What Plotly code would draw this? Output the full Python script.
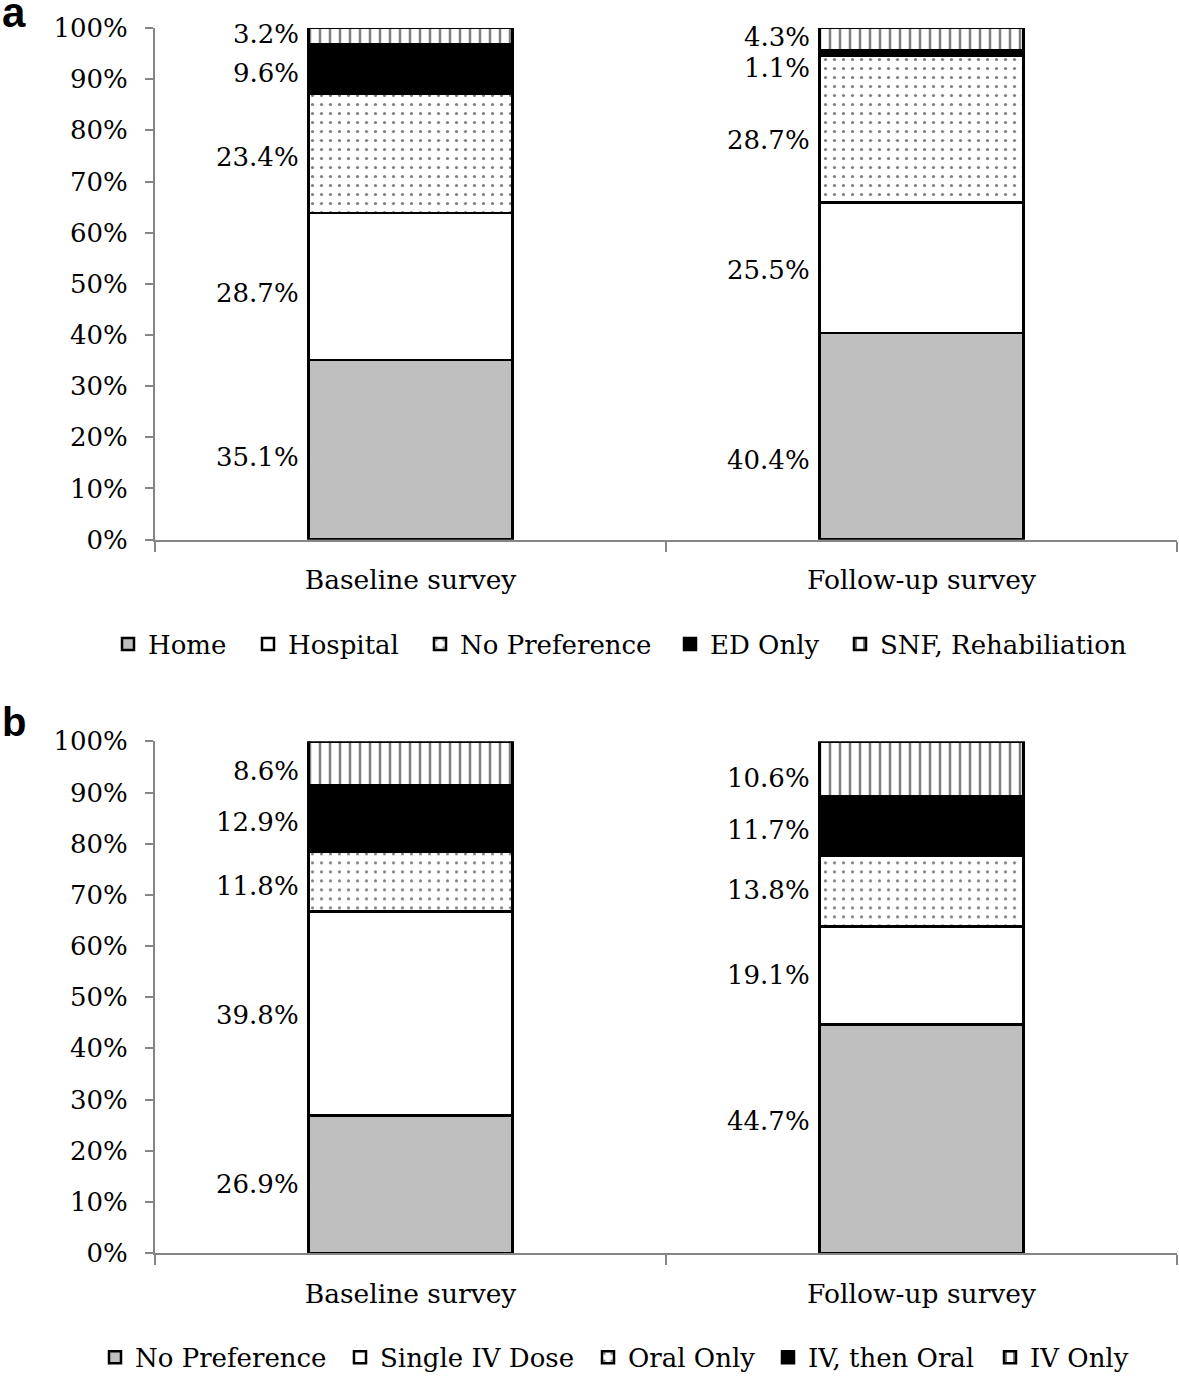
import plotly.graph_objects as go

categories = ["Baseline survey", "Follow-up survey"]

# Panel a: preferred location
a_series = ["Home", "Hospital", "No Preference", "ED Only", "SNF, Rehabiliation"]
a_values = [
    [35.1, 40.4],
    [28.7, 25.5],
    [23.4, 28.7],
    [9.6, 1.1],
    [3.2, 4.3],
]

# Panel b: preferred treatment
b_series = ["No Preference", "Single IV Dose", "Oral Only", "IV, then Oral", "IV Only"]
b_values = [
    [26.9, 44.7],
    [39.8, 19.1],
    [11.8, 13.8],
    [12.9, 11.7],
    [8.6, 10.6],
]

y_ticks = [0, 10, 20, 30, 40, 50, 60, 70, 80, 90, 100]
y_tick_labels = [f"{v}%" for v in y_ticks]

# styles per series position (gray, white, dotted, black, vertical stripes)
styles = [
    dict(color="#bfbfbf", pattern=dict(shape="")),
    dict(color="white", pattern=dict(shape="")),
    dict(color="white", pattern=dict(shape=".", fgcolor="black", bgcolor="white", size=9, solidity=0.1, fillmode="overlay")),
    dict(color="black", pattern=dict(shape="")),
    dict(color="white", pattern=dict(shape="|", fgcolor="black", bgcolor="white", size=10, solidity=0.25, fillmode="overlay")),
]

FONT = "DejaVu Serif"

# layout in page pixels (body margin removed via post_script)
W, H = 1179, 1383
VS = 1391 / 1383  # vertical compensation for the capture


def Y(p):
    return p * VS


L, R = 155, 1177
T, B = Y(28), Y(1261)
pw = R - L
ph = B - T


def py(pix):  # target page pixel from top -> paper fraction
    return 1 - (Y(pix) - T) / ph


def px(pix):
    return (pix - L) / pw


# legend text start positions (page px) for each entry
legend_text_x = {"a": [148, 288, 460, 710, 880], "b": [135, 380, 628, 808, 1030]}
legend_y = {"a": 648, "b": 1366}

fig = go.Figure()
legend_layout = {}
k = 0
for panel, series, values, xa, ya in [("a", a_series, a_values, "x", "y"),
                                      ("b", b_series, b_values, "x2", "y2")]:
    for i, (name, vals) in enumerate(zip(series, values)):
        k += 1
        lg = "legend" if k == 1 else f"legend{k}"
        st = styles[i]
        fig.add_trace(go.Bar(
            x=categories, y=vals, name=name, xaxis=xa, yaxis=ya, legend=lg,
            width=0.4,
            marker=dict(color=st["color"], pattern=st["pattern"],
                        line=dict(color="black", width=2.5)),
            showlegend=True,
        ))
        legend_layout[lg] = dict(
            orientation="h", x=px(legend_text_x[panel][i] - 40), xanchor="left",
            y=py(legend_y[panel]), yanchor="middle",
            font=dict(family=FONT, size=26), itemwidth=30, bgcolor="rgba(0,0,0,0)",
        )

# value labels to the left of bars; small pixel nudges per label
label_nudge = {
    ("a", 0): [-7, -6, -4, -4, 2],
    ("a", 1): [-24, -2, -11, -15, 2],
    ("b", 0): [0, -1, -4, -4, -8],
    ("b", 1): [18, 0, 1, -4, -9],
}
for panel, values, xr, yr in [("a", a_values, "x", "y"), ("b", b_values, "x2", "y2")]:
    for ci, cat in enumerate(categories):
        base = 0
        for si in range(len(values)):
            v = values[si][ci]
            mid = base + v / 2
            base += v
            fig.add_annotation(
                x=cat, y=mid, xref=xr, yref=yr, text=f"{v}%", showarrow=False,
                xanchor="right", yanchor="middle", xshift=-110,
                yshift=label_nudge[(panel, ci)][si],
                font=dict(family=FONT, size=26, color="black"),
            )

fig.add_annotation(text="<b>a</b>", x=px(0), y=py(12), xref="paper", yref="paper",
                   showarrow=False, xanchor="left", yanchor="middle",
                   font=dict(family="Liberation Sans", size=42, color="black"))
fig.add_annotation(text="<b>b</b>", x=px(0), y=py(727), xref="paper", yref="paper",
                   showarrow=False, xanchor="left", yanchor="middle",
                   font=dict(family="Liberation Sans", size=40, color="black"))

axis_common = dict(showgrid=False, zeroline=False, showline=True, linecolor="#868686", linewidth=2,
                   ticks="outside", tickcolor="#868686", tickwidth=2)

fig.update_layout(
    width=W, height=H,
    margin=dict(l=L, r=W - R, t=T, b=H - B),
    paper_bgcolor="white", plot_bgcolor="white",
    barmode="stack", bargap=0.6,
    font=dict(family=FONT, size=26, color="black"),
    xaxis=dict(domain=[0, 1], anchor="y", type="category", tickson="boundaries", ticklen=10,
               tickfont=dict(family=FONT, size=26.5), ticklabelstandoff=16, **axis_common),
    yaxis=dict(domain=[py(543), 1], anchor="x", range=[0, 100], tickvals=y_ticks, ticktext=y_tick_labels,
               ticklen=8, tickfont=dict(family=FONT, size=26), ticklabelstandoff=12, **axis_common),
    xaxis2=dict(domain=[0, 1], anchor="y2", type="category", tickson="boundaries", ticklen=10,
                tickfont=dict(family=FONT, size=26.5), ticklabelstandoff=16, **axis_common),
    yaxis2=dict(domain=[0, py(746)], anchor="x2", range=[0, 100], tickvals=y_ticks, ticktext=y_tick_labels,
                ticklen=8, tickfont=dict(family=FONT, size=26), ticklabelstandoff=12, **axis_common),
    **legend_layout,
)

fig.write_html("out.html", config={"displayModeBar": False},
               post_script="document.body.style.margin='0';document.body.style.overflow='hidden';")
